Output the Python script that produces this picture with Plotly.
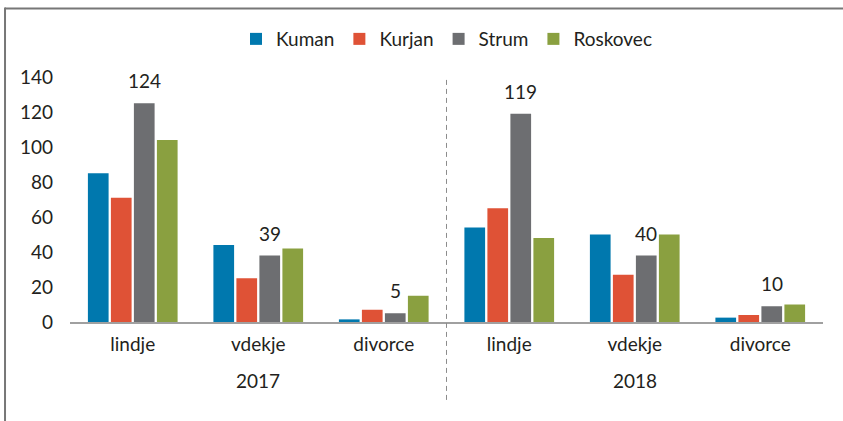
import plotly.graph_objects as go

years = ["2017", "2018"]
categories = ["lindje", "vdekje", "divorce"]
series_names = ["Kuman", "Kurjan", "Strum", "Roskovec"]
colors = ["#0078AE", "#DF5236", "#6D6E71", "#8AA040"]

kuman = [85, 44, 1.5, 54, 50, 2.5]
kurjan = [71, 25, 7, 65, 27, 4]
strum = [125, 38, 5, 119, 38, 9]
roskovec = [104, 42, 15, 48, 50, 10]
strum_labels = ["124", "39", "5", "119", "40", "10"]

values = [kuman, kurjan, strum, roskovec]
n_cat = len(years) * len(categories)
xpos = list(range(n_cat))
tick_text = [c for y in years for c in categories]

FONT = "Lato, 'Open Sans', sans-serif"
TXT = "#231f20"
FRAME = "#777777"

fig = go.Figure()
for name, vals, col in zip(series_names, values, colors):
    fig.add_trace(go.Bar(x=xpos, y=vals, name=name, marker=dict(color=col, line=dict(width=0))))

# Strum data labels
for i, (v, lab) in enumerate(zip(strum, strum_labels)):
    fig.add_annotation(x=xpos[i], y=v, text=lab, showarrow=False, xref="x", yref="y",
                       xanchor="center", yanchor="bottom", xshift=11.5, yshift=9,
                       font=dict(size=19, color=TXT, family=FONT))

# year labels
for gi, yr in enumerate(years):
    center = gi * len(categories) + (len(categories) - 1) / 2
    fig.add_annotation(x=center, y=-0.237, text=yr, showarrow=False, xref="x", yref="paper",
                       xanchor="center", yanchor="middle",
                       font=dict(size=19, color=TXT, family=FONT))

# dashed divider between years
fig.add_shape(type="line", xref="x", yref="paper", x0=len(categories) - 0.5, x1=len(categories) - 0.5,
              y0=-0.318, y1=1.004, line=dict(color="#8c8c8c", width=1, dash="5px,4px"))

# frame (top and left)
fig.add_shape(type="line", xref="paper", yref="paper", x0=-0.0863, x1=1.05, y0=1.28, y1=1.28,
              line=dict(color=FRAME, width=2), layer="above")
fig.add_shape(type="line", xref="paper", yref="paper", x0=-0.0863, x1=-0.0863, y0=1.284, y1=-0.45,
              line=dict(color=FRAME, width=2), layer="above")

fig.update_layout(
    width=843, height=421,
    margin=dict(l=70, r=20, t=77, b=99, autoexpand=False),
    paper_bgcolor="white", plot_bgcolor="white",
    barmode="group", bargap=0.267, bargroupgap=0.1,
    font=dict(family=FONT, size=19, color=TXT),
    showlegend=True,
    legend=dict(orientation="h", x=0.5, xanchor="center", y=1.155, yanchor="middle",
                font=dict(size=19, color=TXT, family=FONT), itemwidth=30, tracegroupgap=0,
                bgcolor="rgba(0,0,0,0)"),
    xaxis=dict(range=[-0.5, n_cat - 0.5], tickvals=xpos, ticktext=tick_text,
               showgrid=False, zeroline=False, showline=True, linecolor="#a0a0a0", linewidth=2,
               ticks="", ticklabelstandoff=4, tickfont=dict(size=19, color=TXT, family=FONT)),
    yaxis=dict(range=[0, 140], tickvals=[0, 20, 40, 60, 80, 100, 120, 140], showgrid=False,
               zeroline=False, showline=False, ticks="", ticklabelstandoff=16,
               tickfont=dict(size=19, color=TXT, family=FONT)),
)

fig.write_html("out.html", config={"displayModeBar": False},
               post_script="document.body.style.margin='0';document.body.style.padding='0';")
